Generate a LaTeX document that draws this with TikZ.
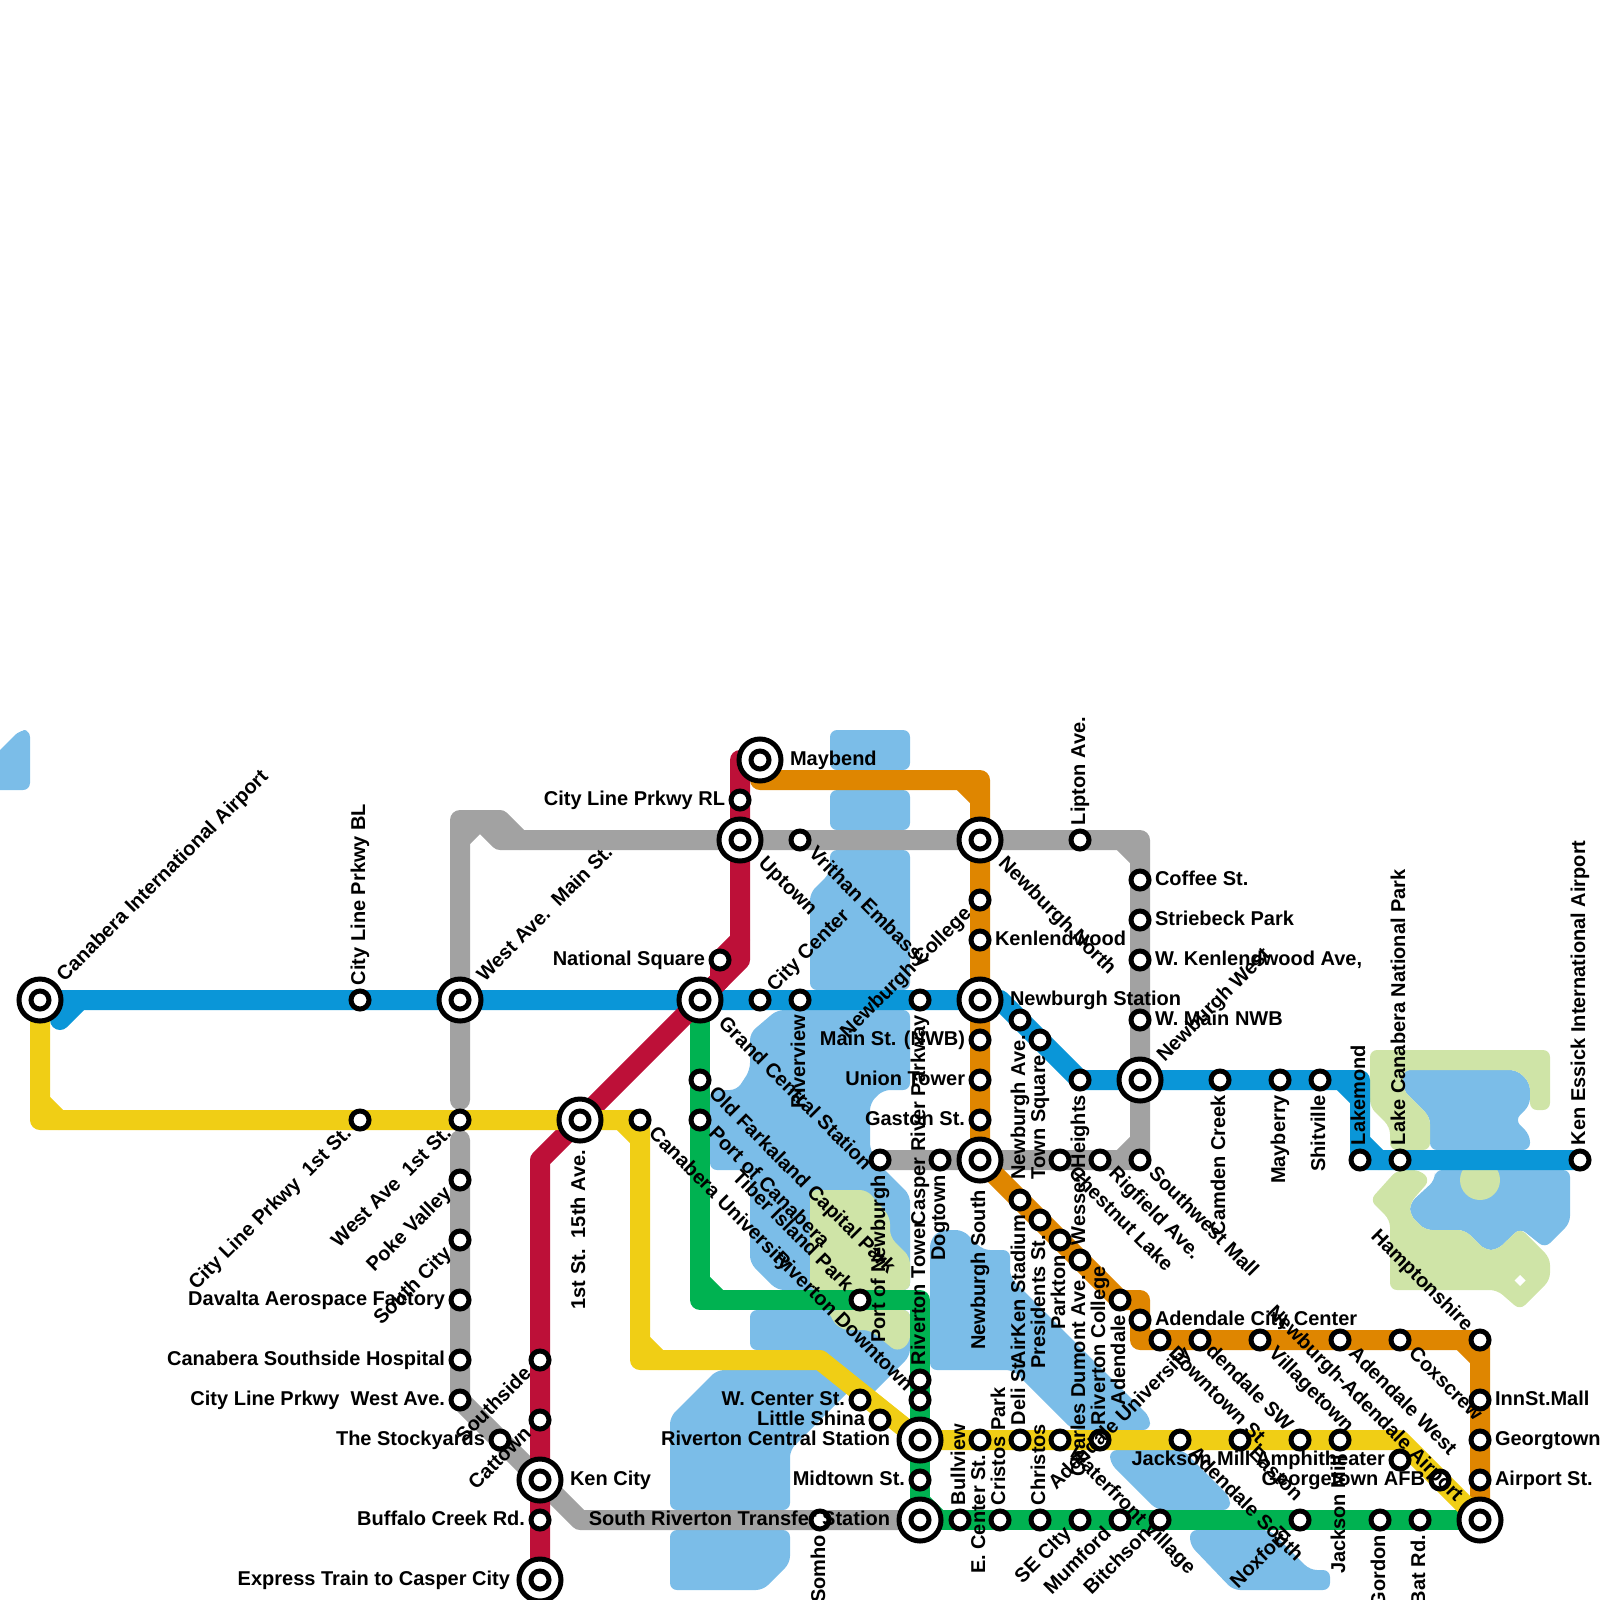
\documentclass[tikz,border=0pt]{standalone}
\usepackage{fontspec}
\setmainfont{Liberation Sans}
\usetikzlibrary{calc}
\pgfdeclarelayer{bg}
\pgfsetlayers{bg,main}
\definecolor{lineBlue}{HTML}{0A96D8}
\definecolor{lineRed}{HTML}{BD1038}
\definecolor{lineYellow}{HTML}{F0CE15}
\definecolor{lineGreen}{HTML}{00B251}
\definecolor{lineOrange}{HTML}{DF8600}
\definecolor{lineGray}{HTML}{A2A2A2}
\definecolor{waterBlue}{HTML}{7BBDE8}
\definecolor{parkGreen}{HTML}{CFE4A7}
\newcommand{\chamfer}[4]{\draw[metro,#1] ($(#2)+(#3*19,0)$) -- ($(#2)+(0,#4*19)$);}
\begin{document}
\begin{tikzpicture}[
    x=0.5pt, y=-0.5pt,
    stn/.style={circle, draw=black, fill=white, line width=2.5pt, minimum size=9pt, inner sep=0pt},
    hub/.style={circle, draw=black, fill=white, line width=2.5pt, minimum size=21pt, inner sep=0pt,
      label={[stn]center:{}}},
    lbl/.style={font=\fontsize{10}{12}\selectfont\bfseries, inner sep=0pt, text height=7.2pt, text depth=2.2pt,
      line width=0pt, draw=none, fill=none},
    lab/.style n args={4}{append after command={
      node[lbl, shift={(#1:#3)}, rotate=#1, anchor=#2] at (\tikzlastnode.center) {#4}}},
    tE/.style={lab={0}{west}{7.5pt}{#1}},
    tW/.style={lab={0}{east}{-7.5pt}{#1}},
    tN/.style={lab={90}{west}{7.5pt}{#1}},
    tS/.style={lab={90}{east}{-7.5pt}{#1}},
    tNE/.style={lab={45}{west}{8pt}{#1}},
    tSW/.style={lab={45}{east}{-8pt}{#1}},
    tSE/.style={lab={-45}{west}{8pt}{#1}},
    tNW/.style={lab={-45}{east}{-8pt}{#1}},
    hE/.style={lab={0}{west}{15pt}{#1}},
    hW/.style={lab={0}{east}{-15pt}{#1}},
    hS/.style={lab={90}{east}{-15pt}{#1}},
    hNE/.style={lab={45}{west}{15pt}{#1}},
    hSE/.style={lab={-45}{west}{15pt}{#1}},
    hNW/.style={lab={-45}{east}{-15pt}{#1}},
    metro/.style={line width=10pt, line cap=round, line join=round},
    water/.style={fill=waterBlue, rounded corners=3.5pt},
    park/.style={fill=parkGreen, rounded corners=3.5pt}
  ]
    \useasboundingbox (0,0) rectangle (1600,1600);

    % blue line
    \node[hub, hNE={Canabera International Airport}] (canIntl) at (40,1000) {};
    \node[stn, tN={City Line Prkwy BL}] (cityBL) at (360,1000) {};
    \node[hub, hNE={West Ave.\ \ Main St.}] (westMain) at (460,1000) {};
    \node[hub, hSE={Grand Central Station}] (grandCentral) at (700,1000) {};
    \node[stn, tNE={City Center}] (cityCenter) at (760,1000) {};
    \node[stn, tS={Riverview}] (riverview) at (800,1000) {};
    \node[stn, tS={Casper River Parkway}] (casper) at (920,1000) {};
    \node[hub, hE={Newburgh Station}] (nbStation) at (980,1000) {};
    \node[stn, tS={Newburgh Ave.}] (nbAve) at (1020,1020) {};
    \node[stn, tS={Town Square}] (townSquare) at (1040,1040) {};
    \node[stn, tS={Heights}] (heights) at (1080,1080) {};
    \node[hub, hNE={Newburgh West}] (nbWest) at (1140,1080) {};
    \node[stn, tS={Camden Creek}] (camden) at (1220,1080) {};
    \node[stn, tS={Mayberry}] (mayberry) at (1280,1080) {};
    \node[stn, tS={Shitville}] (shitville) at (1320,1080) {};
    \node[stn, tN={Lakemond}] (lakemond) at (1360,1160) {};
    \node[stn, tN={Lake Canabera National Park}] (lakePark) at (1400,1160) {};
    \node[stn, tN={Ken Essick International Airport}] (kenEssick) at (1580,1160) {};

    % yellow line
    \node[stn, tSW={City Line Prkwy\ \ 1st St.}] (city1st) at (360,1120) {};
    \node[stn, tSW={West Ave\ \ 1st St.}] (west1st) at (460,1120) {};
    \node[hub, hS={1st St.\ \ 15th Ave.}] (first15) at (580,1120) {};
    \node[stn, tSE={Canabera University}] (canUniv) at (640,1120) {};
    \node[stn, tW={W. Center St.}] (wCenter) at (860,1400) {};
    \node[stn, tW={Little Shina}] (littleShina) at (880,1420) {};
    \node[hub, hW={Riverton Central Station}] (rivCentral) at (920,1440) {};
    \node[stn, tS={E. Center St.}] (eCenter) at (980,1440) {};
    \node[stn, tN={Deli St}] (deli) at (1020,1440) {};
    \node[stn, tSE={Waterfront Village}] (waterfront) at (1060,1440) {};
    \node[stn, tN={Riverton College}] (rivCollege) at (1100,1440) {};
    \node[stn, tSE={Adendale South}] (adSouth) at (1180,1440) {};
    \node[stn, tSE={Easton}] (easton) at (1240,1440) {};
    \node[stn, tNW={Adendale SW}] (adSW) at (1300,1440) {};
    \node[stn, tS={Jackson Mill}] (jackson) at (1340,1440) {};
    \node[stn, tW={Jackson Mill Amphitheater}] (amphi) at (1400,1460) {};
    \node[stn, tW={Georgetown AFB}] (georgeAFB) at (1440,1480) {};
    \node[hub, hNW={Newburgh-Adendale Airport}] (airportHub) at (1480,1520) {};

    % gray line
    \node[stn, tW={Davalta Aerospace Factory}] (davalta) at (460,1300) {};
    \node[stn, tSW={Poke Valley}] (poke) at (460,1180) {};
    \node[stn, tSW={South City}] (southCity) at (460,1240) {};
    \node[stn, tW={Canabera Southside Hospital}] (hospital) at (460,1360) {};
    \node[stn, tW={City Line Prkwy\ \ West Ave.}] (cityWest) at (460,1400) {};
    \node[stn, tW={The Stockyards}] (stockyards) at (500,1440) {};
    \node[hub, hE={Ken City}] (kenCity) at (540,1480) {};
    \node[stn, tS={Somho}] (somho) at (820,1520) {};
    \node[hub, hW={South Riverton Transfer Station}] (sRiverton) at (920,1520) {};
    \node[hub, hSE={Uptown}] (uptown) at (740,840) {};
    \node[stn, tSE={Vrithan Embassy}] (vrithan) at (800,840) {};
    \node[hub, hSE={Newburgh North}] (nbNorth) at (980,840) {};
    \node[stn, tN={Lipton Ave.}] (lipton) at (1080,840) {};
    \node[stn, tE={Coffee St.}] (coffee) at (1140,880) {};
    \node[stn, tE={Striebeck Park}] (striebeck) at (1140,920) {};
    \node[stn, tE={W. Kenlendwood Ave,}] (wKenlend) at (1140,960) {};
    \node[stn, tE={W. Main NWB}] (wMain) at (1140,1020) {};
    \node[stn, tSE={Southwest Mall}] (swMall) at (1140,1160) {};
    \node[stn, tSE={Rigfield Ave.}] (rigfield) at (1100,1160) {};
    \node[stn, tSE={Chestnut Lake}] (chestnut) at (1060,1160) {};
    \node[hub, hS={Newburgh South}] (nbSouth) at (980,1160) {};
    \node[stn, tS={Dogtown}] (dogtown) at (940,1160) {};
    \node[stn, tS={Port of Newburgh}] (portNb) at (880,1160) {};

    % red line
    \node[hub, hE={Maybend}] (maybend) at (760,760) {};
    \node[stn, tW={City Line Prkwy RL}] (cityRL) at (740,800) {};
    \node[stn, tW={National Square}] (natSquare) at (720,960) {};
    \node[stn, tSW={Southside}] (southside) at (540,1360) {};
    \node[stn, tSW={Cattown}] (cattown) at (540,1420) {};
    \node[stn, tW={Buffalo Creek Rd.}] (buffalo) at (540,1520) {};
    \node[hub, hW={Express Train to Casper City}] (express) at (540,1580) {};

    % green line
    \node[stn, tSE={Old Farkaland Capital Park}] (farkaland) at (700,1080) {};
    \node[stn, tSE={Port of Canabera}] (portCan) at (700,1120) {};
    \node[stn, tNW={Tiber Island Park}] (tiber) at (860,1300) {};
    \node[stn, tN={Riverton Tower}] (rivTower) at (920,1380) {};
    \node[stn, tNW={Riverton Downtown}] (rivDown) at (920,1400) {};
    \node[stn, tW={Midtown St.}] (midtown) at (920,1480) {};
    \node[stn, tN={Bullview}] (bullview) at (960,1520) {};
    \node[stn, tN={Cristos Park}] (cristos) at (1000,1520) {};
    \node[stn, tN={Christos}] (christos) at (1040,1520) {};
    \node[stn, tSW={SE CIty}] (seCity) at (1080,1520) {};
    \node[stn, tSW={Mumford}] (mumford) at (1120,1520) {};
    \node[stn, tSW={Bitchson}] (bitchson) at (1160,1520) {};
    \node[stn, tSW={Noxford}] (noxford) at (1300,1520) {};
    \node[stn, tS={Gordon}] (gordon) at (1380,1520) {};
    \node[stn, tS={Bat Rd.}] (batRd) at (1420,1520) {};

    % orange line
    \node[stn, tSW={Newburgh College}] (nbCollege) at (980,900) {};
    \node[stn, tE={Kenlendwood}] (kenlend) at (980,940) {};
    \node[stn, tW={Main St. (NWB)}] (mainNwb) at (980,1040) {};
    \node[stn, tW={Union Tower}] (union) at (980,1080) {};
    \node[stn, tW={Gaston St.}] (gaston) at (980,1120) {};
    \node[stn, tS={AirKen Stadium}] (airKen) at (1020,1200) {};
    \node[stn, tS={Presidents St.}] (presidents) at (1040,1220) {};
    \node[stn, tS={Parkton}] (parkton) at (1060,1240) {};
    \node[stn, tS={Charles Dumont Ave.}] (charles) at (1080,1260) {};
    \node[lbl, rotate=90, anchor=west] (wessex) at (1080,1245) {Wessex};
    \node[stn, tS={Adendale}] (adendale) at (1120,1300) {};
    \node[stn, tE={Adendale City Center}] (adCity) at (1140,1320) {};
    \node[stn, tSE={Downtown St.}] (downtownSt) at (1160,1340) {};
    \node[stn, tSW={Adendale University}] (adUniv) at (1200,1340) {};
    \node[stn, tSE={Villagetown}] (village) at (1260,1340) {};
    \node[stn, tSE={Adendale West}] (adWest) at (1340,1340) {};
    \node[stn, tSE={Coxscrew}] (coxscrew) at (1400,1340) {};
    \node[stn, tNW={Hamptonshire}] (hampton) at (1480,1340) {};
    \node[stn, tE={InnSt.Mall}] (innMall) at (1480,1400) {};
    \node[stn, tE={Georgtown}] (georgtown) at (1480,1440) {};
    \node[stn, tE={Airport St.}] (airportSt) at (1480,1480) {};

    % bends
    \coordinate (bB0) at (60,1020);
    \coordinate (bB1) at (80,1000);
    \coordinate (bB2) at (1000,1000);
    \coordinate (cB3) at (1360,1080);
    \coordinate (cY1) at (40,1120);
    \coordinate (cY2) at (640,1360);
    \coordinate (bY3) at (820,1360);
    \coordinate (bY4) at (1400,1440);
    \coordinate (bG1) at (460,1100);
    \coordinate (cG2) at (460,820);
    \coordinate (bG3) at (500,820);
    \coordinate (bG4) at (520,840);
    \coordinate (bG5) at (460,840);
    \coordinate (bG6) at (480,820);
    \coordinate (bG7) at (500,840);
    \coordinate (cG8) at (1140,840);
    \coordinate (bG9) at (460,1140);
    \coordinate (bG10) at (580,1520);
    \coordinate (cR1) at (740,760);
    \coordinate (bR2) at (740,960);
    \coordinate (bR3) at (540,1160);
    \coordinate (bR4) at (740,940);
    \coordinate (bR5) at (720,980);
    \coordinate (cN1) at (700,1300);
    \coordinate (cN2) at (920,1300);
    \coordinate (cO1) at (760,780);
    \coordinate (cO2) at (980,780);
    \coordinate (cO3) at (1140,1300);
    \coordinate (cO4) at (1140,1340);

    \begin{pgfonlayer}{bg}
      % water
      \fill[water] (-10,760) -- (20,730) -- (30,730) -- (30,790) -- (-10,790) -- cycle;
      \fill[water] (830,730) rectangle (910,770);
      \fill[water] (830,790) rectangle (910,830);
      \fill[water] (830,850) -- (910,850) -- (910,990) -- (810,990) -- (810,893) -- (830,873) -- cycle;
      \fill[water] (777,1010) -- (910,1010) -- (910,1090) -- (883,1090) -- (870,1103) -- (870,1150)
        -- (880,1165) -- (910,1195) -- (910,1290) -- (777,1290) -- (750,1263) -- (750,1170)
        -- (710,1170) -- (710,1090) -- (737,1090) -- (750,1070) -- (750,1033) -- cycle;
      \fill[water] (750,1310) -- (910,1310) -- (910,1356) -- (866,1400) -- (820,1350) -- (750,1350) -- cycle;
      \fill[water] (670,1417) -- (717,1370) -- (870,1370) -- (790,1450) -- (790,1510) -- (670,1510) -- cycle;
      \fill[water] (670,1530) -- (790,1530) -- (790,1563) -- (763,1590) -- (670,1590) -- cycle;
      \fill[water] (930,1240) -- (940,1230) -- (963,1230) -- (983,1250) -- (1010,1250) -- (1010,1277)
        -- (1150,1417) -- (1150,1430) -- (1073,1430) -- (1013,1370) -- (930,1370) -- cycle;
      \fill[water] (1110,1450) -- (1183,1450) -- (1230,1497) -- (1230,1510) -- (1157,1510) -- (1110,1463) -- cycle;
      \fill[water] (1190,1530) -- (1270,1530) -- (1310,1570) -- (1330,1570) -- (1330,1590) -- (1233,1590) -- (1190,1545) -- cycle;
      \fill[water] (1403,1070) -- (1517,1070) -- (1530,1083) -- (1530,1105) -- (1515,1120) -- (1530,1135)
        -- (1530,1150) -- (1430,1150) -- (1430,1117) -- (1403,1090) -- cycle;
      \fill[water] (1435,1170) -- (1570,1170) -- (1570,1223) -- (1545,1248) -- (1520,1228) -- (1497,1250)
        -- (1485,1250) -- (1465,1230) -- (1425,1230) -- (1410,1215) -- (1410,1203) -- (1435,1180) -- cycle;

      % parks
      \fill[park] (810,1190) -- (867,1190) -- (890,1217) -- (890,1237) -- (910,1257) -- (910,1290) -- (810,1290) -- cycle;
      \fill[park] (830,1310) -- (910,1310) -- (910,1343) -- (897,1352) -- (870,1330) -- (842,1330) -- (830,1318) -- cycle;
      \fill[park] (1370,1050) -- (1550,1050) -- (1550,1110) -- (1530,1110) -- (1530,1083) -- (1517,1070)
        -- (1403,1070) -- (1403,1090) -- (1430,1117) -- (1430,1150) -- (1390,1150) -- (1390,1127) -- (1370,1107) -- cycle;
      \fill[park] (1397,1170) -- (1420,1170) -- (1430,1180) -- (1410,1203) -- (1410,1215) -- (1425,1230)
        -- (1465,1230) -- (1485,1250) -- (1497,1250) -- (1520,1228) -- (1550,1258) -- (1550,1280)
        -- (1520,1310) -- (1497,1290) -- (1390,1290) -- (1390,1220) -- (1370,1200) -- cycle;
      \fill[parkGreen] (1480,1180) circle (10pt);
      \fill[white] (1520,1275) -- (1525.5,1280.5) -- (1520,1286) -- (1514.5,1280.5) -- cycle;

      % lines
      \draw[metro,lineGray] (bG1) -- (westMain.center) -- (cG2) -- (bG3) -- (bG4) -- (uptown.center)
        -- (cG8) -- (swMall.center) -- (portNb.center);
      \draw[metro,lineGray] (bG5) -- (bG6) -- (bG7) -- (bG4);
      \draw[metro,lineGray] (bG9) -- (cityWest.center) -- (bG10) -- (sRiverton.center);
      \chamfer{lineGray}{cG8}{-1}{1}
      \chamfer{lineGray}{swMall}{-1}{-1}

      \draw[metro,lineBlue] (canIntl.center) -- (nbStation.center) -- (bB2) -- (heights.center)
        -- (cB3) -- (lakemond.center) -- (kenEssick.center);
      \draw[metro,lineBlue] (bB0) -- (bB1);
      \chamfer{lineBlue}{cB3}{-1}{1}
      \chamfer{lineBlue}{lakemond}{1}{-1}

      \draw[metro,lineOrange] (maybend.center) -- (cO1) -- (cO2) -- (nbSouth.center) -- (adendale.center)
        -- (cO3) -- (cO4) -- (hampton.center) -- (airportHub.center);
      \chamfer{lineOrange}{cO2}{-1}{1}
      \chamfer{lineOrange}{hampton}{-1}{1}

      \draw[metro,lineGreen] (grandCentral.center) -- (cN1) -- (cN2) -- (sRiverton.center) -- (airportHub.center);
      \chamfer{lineGreen}{cN1}{1}{-1}
      \chamfer{lineGreen}{sRiverton}{1}{-1}

      \draw[metro,lineRed] (maybend.center) -- (cR1) -- (bR2) -- (grandCentral.center) -- (first15.center)
        -- (bR3) -- (express.center);
      \draw[metro,lineRed] (bR4) -- (natSquare.center) -- (bR5) -- (grandCentral.center);

      \draw[metro,lineYellow] (canIntl.center) -- (cY1) -- (canUniv.center) -- (cY2) -- (bY3)
        -- (rivCentral.center) -- (bY4) -- (airportHub.center);
      \chamfer{lineYellow}{cY1}{1}{-1}
      \chamfer{lineYellow}{canUniv}{-1}{1}
      \chamfer{lineYellow}{cY2}{1}{-1}
    \end{pgfonlayer}
\end{tikzpicture}
\end{document}
